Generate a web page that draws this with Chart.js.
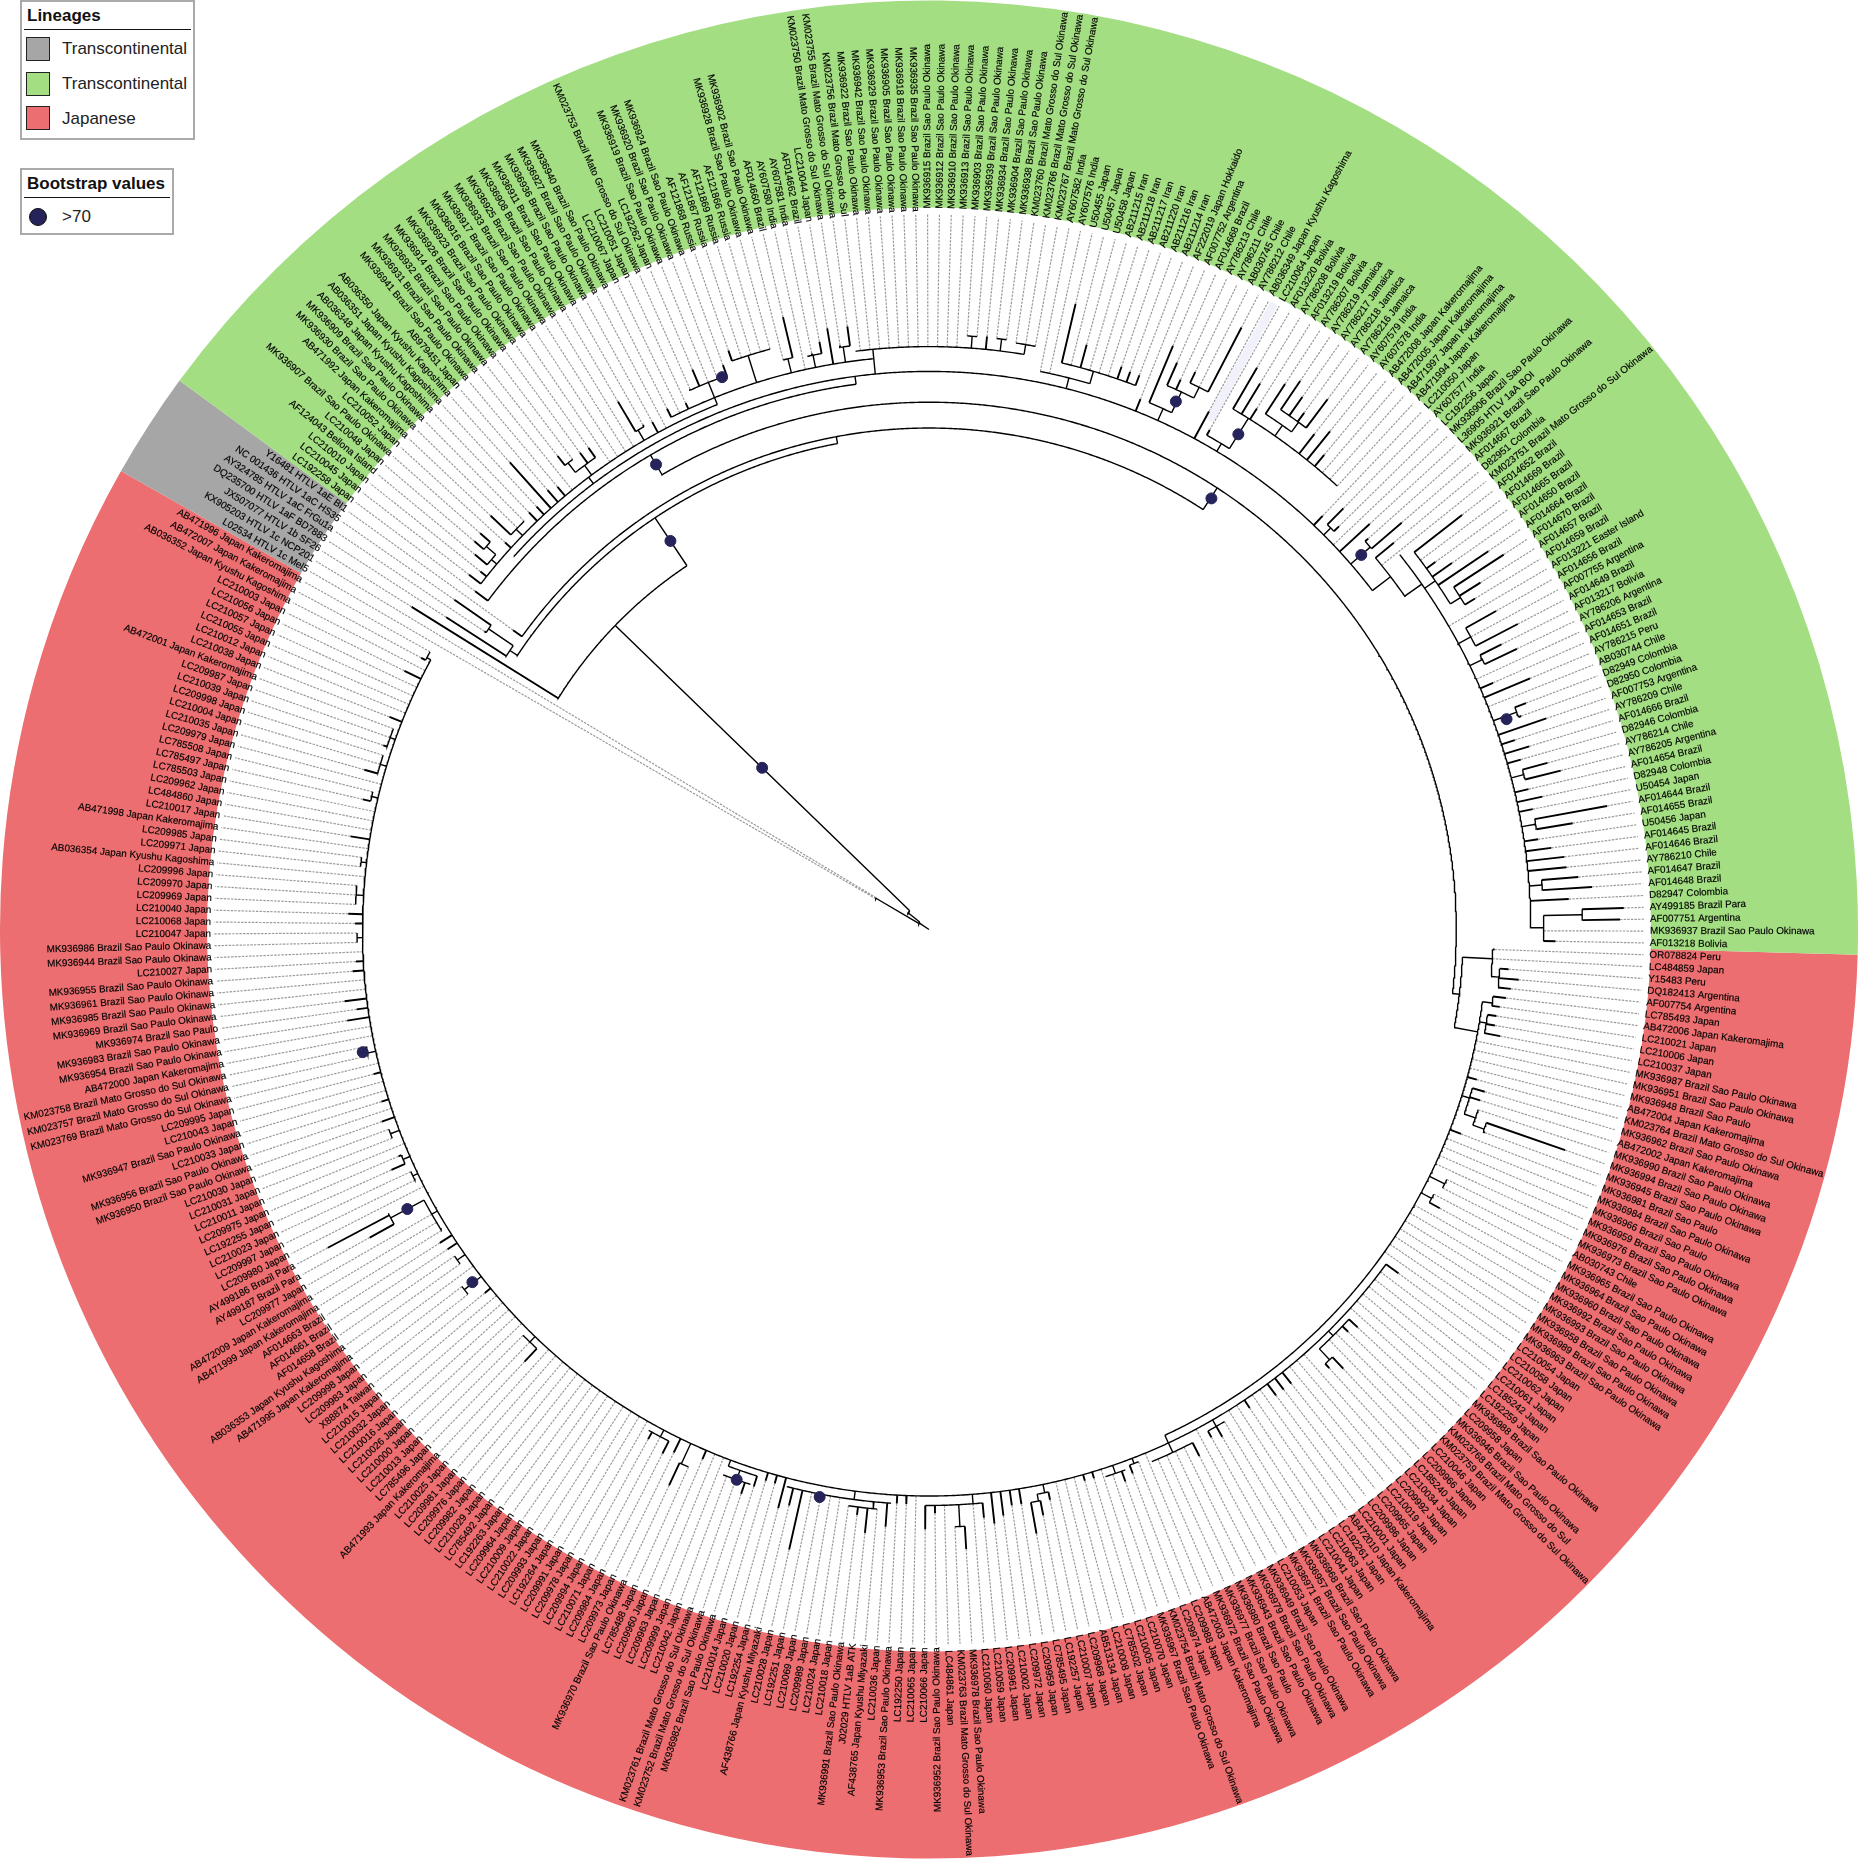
<!DOCTYPE html>
<html>
<head>
<meta charset="utf-8">
<title>HTLV-1 tree</title>
<script src="https://cdn.jsdelivr.net/npm/chart.js@4"></script>
<style>
body { margin: 0; background: #fff; width: 1858px; height: 1859px; overflow: hidden; position: relative; font-family: "Liberation Sans", Arial, sans-serif; }
canvas { position: absolute; left: 0; top: 0; }
.box { position: absolute; left: 20px; border: 2px solid #aaa; background: #fff; box-sizing: border-box; width: 175px; z-index: 5; }
.box b { position: absolute; left: 5px; top: 4px; font-size: 17px; color: #111; white-space: nowrap; }
.box hr { position: absolute; left: 2px; right: 2px; margin: 0; border: 0; border-top: 1.5px solid #111; }
.swatch { position: absolute; left: 4px; width: 24px; height: 24px; box-sizing: border-box; border: 1px solid #222; }
.lbl { position: absolute; left: 40px; font-size: 17px; color: #222; white-space: nowrap; }
.dot { position: absolute; left: 7px; width: 18px; height: 18px; border-radius: 50%; background: #25235a; box-sizing: border-box; border: 1px solid #111; }
</style>
</head>
<body>
<canvas id="ring" width="1858" height="1859"></canvas>
<canvas id="tree" width="1858" height="1859"></canvas>

<div class="box" style="top:0;height:140px">
  <b>Lineages</b><hr style="top:27px">
  <div class="swatch" style="top:35px;background:#a6a6a6"></div><div class="lbl" style="top:37px">Transcontinental</div>
  <div class="swatch" style="top:70px;background:#a4de82"></div><div class="lbl" style="top:72px">Transcontinental</div>
  <div class="swatch" style="top:104px;background:#ec6e70"></div><div class="lbl" style="top:107px">Japanese</div>
</div>
<div class="box" style="top:168px;height:67px;width:154px">
  <b>Bootstrap values</b><hr style="top:27px">
  <div class="dot" style="top:38px"></div><div class="lbl" style="top:37px">&gt;70</div>
</div>

<script>
// tip names, counter-clockwise from the green/red border
const greenTips = ['AF013218 Bolivia','MK936937~S','AF007751 Argentina','AY499185 Brazil Para','D82947 Colombia','AF014648 Brazil','AF014647 Brazil','AY786210 Chile','AF014646 Brazil','AF014645 Brazil',
'U50456~J','AF014655 Brazil','AF014644 Brazil','U50454~J','D82948 Colombia','AF014654 Brazil','AY786205 Argentina','AY786214 Chile','D82946 Colombia','AF014666 Brazil',
'AY786209 Chile','AF007753 Argentina','D82950 Colombia','D82949 Colombia','AB030744 Chile','AY786215 Peru','AF014651 Brazil','AF014653 Brazil','AY786206 Argentina','AF013217 Bolivia',
'AF014649 Brazil','AF007755 Argentina','AF014656 Brazil','AF013221 Easter Island','AF014659 Brazil','AF014657 Brazil','AF014670 Brazil','AF014664 Brazil','AF014650 Brazil','AF014665 Brazil',
'AF014669 Brazil','AF014652 Brazil','KM023751~M','D82951 Colombia','AF014667 Brazil','MK936921~S','L36905 HTLV 1aA BOI','MK936906~S','LC192256~J','AY607577 India',
'LC210050~J','AB471994~K','AB471997~K','AB472005~K','AB472008~K','AY607578 India','AY607579 India','AY786216 Jamaica','AY786218 Jamaica','AY786217 Jamaica',
'AY786219 Jamaica','AY786207 Bolivia','AF013219 Bolivia','AY786208 Bolivia','AF013220 Bolivia','LC210064~J','AB036349~G','AY786212 Chile','AB030745 Chile','AY786211 Chile',
'AY786213 Chile','AF014668 Brazil','AF007752 Argentina','AF222019 Japan Hokkaido','AB211214 Iran','AB211216 Iran','AB211220 Iran','AB211217 Iran','AB211218 Iran','AB211215 Iran',
'U50458~J','U50457~J','U50455~J','AY607576 India','AY607582 India','KM023767~M','KM023766~M','KM023760~M','MK936938~S','MK936904~S',
'MK936934~S','MK936939~S','MK936903~S','MK936913~S','MK936910~S','MK936912~S','MK936915~S','MK936935~S','MK936918~S','MK936905~S',
'MK936929~S','MK936942~S','MK936922~S','KM023756 Brazil Mato Grosso do Sul','KM023755~M','KM023750~M','LC210044~J','AF014662 Brazil','AY607581 India','AY607580 India',
'AF014660 Brazil','MK936902~S','MK936928~S','AF121866 Russia','AF121869 Russia','AF121867 Russia','AF121868 Russia','MK936924~S','MK936920~S','MK936919~S',
'LC192262~J','KM023753~M','LC210051~J','LC210067~J','MK936940~S','MK936927~S','MK936936~S','MK936911~S','MK936908~S','MK936925~S',
'MK936933~S','MK936917~S','MK936916~S','MK936923~S','MK936926~S','MK936914~S','MK936932~S','MK936931~S','MK936941~S','AB979451~J',
'AB036350~G','AB036351~G','AB036348~G','MK936909~S','MK936930~S','AB471992~K','LC210052~J','MK936907~S','LC210048~J','AF124043 Bellona Island',
'LC210010~J','LC210045~J','LC192258~J'];

const greyTips = ['Y16481 HTLV 1aE BI1','NC 001436 HTLV 1aC HS35','AY324785 HTLV 1aC FrGu1a','DQ235700 HTLV 1aF BD7883','JX507077 HTLV 1b SF26','KX905203 HTLV 1c NCP201','L02534 HTLV 1c Mel5'];

const redTips = ['AB471996~K','AB472007~K','AB036352~G','LC210003~J','LC210056~J','LC210057~J','LC210055~J','LC210012~J','LC210038~J','AB472001~K',
'LC209987~J','LC210039~J','LC209998~J','LC210004~J','LC210035~J','LC209979~J','LC785508~J','LC785497~J','LC785503~J','LC209962~J',
'LC484860~J','LC210017~J','AB471998~K','LC209985~J','LC209971~J','AB036354~G','LC209996~J','LC209970~J','LC209969~J','LC210040~J',
'LC210068~J','LC210047~J','MK936986~S','MK936944~S','LC210027~J','MK936955~S','MK936961~S','MK936985~S','MK936969~S','MK936974 Brazil Sao Paulo',
'MK936983~S','MK936954~S','AB472000~K','KM023758~M','KM023757~M','KM023769~M','LC209995~J','LC210043~J','MK936947~S','LC210033~J',
'MK936956~S','MK936950~S','LC210030~J','LC210031~J','LC210011~J','LC209975~J','LC192255~J','LC210023~J','LC209997~J','LC209980~J',
'AY499186 Brazil Para','AY499187 Brazil Para','LC209977~J','AB472009~K','AB471999~K','AF014663 Brazil','AF014661 Brazil','AF014658 Brazil','AB036353~G','AB471995~K',
'LC209998~J','LC209983~J','X88874 Taiwan','LC210015~J','LC210032~J','LC210016~J','LC210026~J','LC210000~J','LC210013~J','LC785496~J',
'AB471993~K','LC210025~J','LC209981~J','LC209976~J','LC209982~J','LC210029~J','LC785492~J','LC192263~J','LC209964~J','LC210009~J',
'LC210022~J','LC209993~J','LC192264~J','LC209991~J','LC209978~J','LC209994~J','LC210071~J','LC209984~J','LC209973~J','MK936970~S',
'LC785488~J','LC209960~J','LC209963~J','LC209999~J','LC210042~J','KM023761~M','KM023752~M','MK936982~S','LC210014~J','LC210020~J',
'LC192254~J','AF438766 Japan Kyushu Miyazaki','LC210028~J','LC192251~J','LC210069~J','LC209989~J','LC210024~J','LC210018~J','MK936991~S','J02029 HTLV 1aB ATK',
'AF438765 Japan Kyushu Miyazaki','LC210036~J','MK936953~S','LC192250~J','LC210065~J','LC210066~J','MK936952~S','LC484861~J','KM023763~M','MK936978~S',
'LC210060~J','LC210059~J','LC209961~J','LC210002~J','LC209972~J','LC209959~J','LC785495~J','LC192257~J','LC210007~J','LC209968~J',
'AB513134~J','LC210008~J','LC785502~J','LC210005~J','LC210070~J','MK936967~S','KM023754~M','LC209974~J','LC209988~J','AB472003~K',
'MK936972~S','MK936977~S','MK936980 Brazil Sao Paulo','MK936943~S','MK936979~S','MK936949~S','LC210053~J','MK936971~S','MK936957~S','MK936968~S',
'LC210041~J','LC210063~J','LC192261~J','AB472010~K','LC210001~J','LC209986~J','LC209965~J','LC210019~J','LC209992~J','LC210034~J',
'LC185240~J','LC209966~J','LC210046~J','KM023759~M','KM023768 Brazil Mato Grosso do Sul','MK936946~S','LC209958~J','MK936988~S','LC192259~J','LC185242~J',
'LC210061~J','LC210062~J','LC210058~J','LC210054~J','MK936963~S','MK936989~S','MK936958~S','MK936993~S','MK936992~S','MK936960~S',
'MK936964~S','MK936965~S','AB030743 Chile','MK936973~S','MK936976~S','MK936959~S','MK936966 Brazil Sao Paulo','MK936984~S','MK936981 Brazil Sao Paulo','MK936945~S',
'MK936994~S','MK936990~S','AB472002~K','MK936962~S','KM023764~M','AB472004~K','MK936948 Brazil Sao Paulo','MK936951~S','MK936987~S','LC210037~J',
'LC210006~J','LC210021~J','AB472006~K','LC785493~J','AF007754 Argentina','DQ182413 Argentina','Y15483 Peru','LC484859~J','OR078824 Peru'];

// clades: depth, first tip, last tip, tip number where the stem joins (red tips count negative)
const rootClades = [[12,150,158.5,155],[62,158,159,158.5],[27,144.2,151,150],[440,131.3,157,144.2],[498,107.1,155.2,131.3],[507,154.5,156,155.2],
[537,154,155,154.5],[505,61,153,107.1],[531,-6.2,127.9,61],[554,103.9,152,127.9],[562,40.5,146.4,103.9]];

const greenClades = [[570,119,151,134.8],[577,147.6,149,148.3],[589.5,147,148,147.6],[579,143,145,144.2],[582,133,135.6,134.4],[594,135,136,135.6],
[582,127,128,127.7],[577.5,101.8,124,119],[594,117,121,119],[606,112,116,114.3],[592,110,111,110.5],[590,107,108.5,107.9],[593,104,105,104.7],
[587,86,103.5,101.7],[599,91,92,91.5],[599,88,89,88.5],[597,85,87,86],[573,78.6,84,80.9],[586,74,82,78.6],[575,69.4,72,70.4],[598,68,71,69.4],
[610,67,69,68],[571,62.2,65,63.2],[607,51,64,62.2],[620,57.9,61,59],[632,57,60,57.9],[572,48,49,48.5],[588,44,45,44.2],[585,37.9,43,40.5],
[606,1.3,41.7,38],[619,34.8,41,37.5],[631,34,36,34.8],[620,30,32,31],[620,28,29,28.5],[631,22,23,22.5],[619,16,17,16.5],[620,11,12,11.5],
[619,5,6,5.5],[619,0,2.5,1.3],[658,2,3,2.5]];

const redClades = [[562,-6.7,-67.3,-10],[538,-2,-10,-6.2],[568,-1,-3.9,-2],[576,-3,-5,-3.9],[572,-6,-7,-6.7],[569,-8,-10,-8.9],[570,-16,-18.9,-17.1],
[582,-18,-19.7,-18.9],[594,-19,-20,-19.7],[579,-26,-27,-26.5],[574,-28,-29,-28.5],[570.5,-37,-218.3,-67.3],[577,-44,-48.4,-46.4],[592,-48,-49,-48.4],
[578,-61,-63,-62],[581,-65,-69.7,-67.3],[576,-71,-72,-71.5],[579,-72.6,-74.8,-73.7],[579,-81,-82.2,-81.4],[586,-82,-83,-82.2],[580,-88,-94,-89],
[602,-90,-91,-90.5],[579,-97.6,-108.7,-101.5],[586,-99,-102,-99.4],[577,-112,-115.2,-115.2],[587,-112.4,-115.4,-113.9],[593,-119,-120,-119.8],
[578,-122,-124.4,-123],[578,-139,-141,-140],[592,-148,-149,-148.6],[580,-151,-152,-151.5],[577,-155,-158.7,-157],[615,-158,-159.2,-158.7],
[576,-161,-162,-161.5],[578,-163,-164,-163.5],[580,-166,-167,-166.5],[579,-175,-176,-175.3],[576,-187,-188,-187.5],[578,-191,-193,-192],
[576,-195,-196,-195.5],[577,-202,-203,-202.5],[577,-205,-207,-206],[576,-208,-210,-209],[575,-218,-219,-218.3]];

// tips with a visible black branch: tip, depth where it ends
const rootTipEnds = [[157,614],[154,582],[155,539],[156,579],[153,516],[152,570],[146,578]];
const greenTipEnds = [[0,631],[2,696],[3,700],[4,645],[6,656],[5,669],[7,645],[8,644],[9,632],[10,620],[12,694],[11,657],[13,620],[14,632],[15,620],[17,645],[16,656],
[18,620],[19,632],[20,620],[21,657],[23,643],[22,634],[25,656],[26,620],[29,644],[28,656],[32,655],[30,668],[36,691],[35,656],[34,643],[41,680],[39,630],[38,643],[37,680],
[43,609],[44,628],[45,592],[46,603],[49,595],[48,579],[50,575],[55,644],[56,632],[54,622],[60,667],[59,655],[58,643],[57,668],[61,656],[62,620],[63,643],[64,655],[65,577],
[66,593],[69,622],[67,683],[71,623],[70,609],[72,637],[73,575],[74,597],[75,597],[76,599],[80,610],[82,647],[90,600],[117,605],[120,612],[121,595],[116,617],[124,587],
[122,584],[110,634],[108,592],[107,602],[106,614],[104,613],[105,595],[127,584],[128,617],[126,582],[133,594],[134,595],[136,606],[140,632],[139,586],[138,582],[141,581],
[142,582],[145,607],[149,593],[148,602],[147,603],[150,578],[151,585]];
const redTipEnds = [[-1,570],[-3,585],[-4,596],[-5,589],[-6,585],[-7,580],[-8,578],[-9,578],[-10,585],[-15,572],[-16,583],[-17,581],[-19,678],[-20,596],[-21,574],[-29,586],
[-37,586],[-44,589],[-45,585],[-48,608],[-49,598],[-53,585],[-54,585],[-55,585],[-58,580],[-62,590],[-63,585],[-65,596],[-72,585],[-73,590],[-76,577],[-77,577],[-81,587],
[-82,601],[-83,618],[-84,586],[-85,586],[-86,595],[-87,602],[-88,595],[-90,625],[-93,588],[-94,604],[-96,579],[-97,579],[-98,603],[-100,611],[-101,594],[-107,640],[-108,597],
[-109,602],[-110,579],[-111,579],[-112,588],[-113,599],[-118,580],[-120,618],[-121,586],[-122,592],[-124,586],[-139,596],[-147,578],[-153,582],[-154,585],[-158,643],
[-159,685],[-163,593],[-164,581],[-168,584],[-170,578],[-173,578],[-179,593],[-180,582],[-181,593],[-184,582],[-185,578],[-189,578],[-190,585],[-198,590],[-202,585],
[-205,591],[-208,580],[-211,584],[-216,589],[-218,580]];

// bootstrap >70 nodes
const bootTip = [144.2,131.3,127.9,117.5,60.9,69.5,62.2,44.2,22.2,-175.5,-158.7,-148.7,-113.9,-105.1];
const bootDepth = [234,470,543,594,519,587,588,576,619,583.5,596,581,587,582];

const highlightTip = 66;
const lineageColors = { red: '#ec6e70', grey: '#a6a6a6', green: '#a4de82' };

const suffix = { S: ' Brazil Sao Paulo Okinawa', M: ' Brazil Mato Grosso do Sul Okinawa', J: ' Japan', K: ' Japan Kakeromajima', G: ' Japan Kyushu Kagoshima' };
const tipNames = greenTips.concat(greyTips, redTips).map(n => n.replace(/~(.)/, (m, k) => suffix[k]));
const N = tipNames.length;
const step = 360 / N;
const startAngle = -1.55;
const ringInner = 722;
const ringOuter = 929;
const dotEnd = 720;

const clades = rootClades.concat(greenClades, redClades);
const tipEnds = new Map(rootTipEnds.concat(greenTipEnds, redTipEnds));

function polar(t, r) {
    const a = (startAngle + step * (t + 0.5)) * Math.PI / 180;
    return { x: r * Math.cos(a), y: r * Math.sin(a) };
}

function inRange(c, t) {
    return t >= Math.min(c[1], c[2]) - 0.01 && t <= Math.max(c[1], c[2]) + 0.01;
}

function parentDepth(t, below) {
    let best = 0;
    clades.forEach(c => {
        if (c[0] < below && c[0] > best && inRange(c, t)) best = c[0];
    });
    return best;
}

const gap = { x: NaN, y: NaN };
const arcPts = [], stemPts = [], tipPts = [], dottedPts = [];

clades.forEach(c => {
    const from = Math.min(c[1], c[2]), to = Math.max(c[1], c[2]);
    for (let t = from; t < to; t += 0.2) arcPts.push(polar(t, c[0]));
    arcPts.push(polar(to, c[0]), gap);
    stemPts.push(polar(c[3], parentDepth(c[3], c[0])), polar(c[3], c[0]), gap);
});

for (let i = 0; i < N; i++) {
    const t = i < 160 ? i : i - N;
    const start = parentDepth(t, 9999);
    const end = Math.max(tipEnds.has(t) ? tipEnds.get(t) : start, start);
    if (end > start) tipPts.push(polar(t, start), polar(t, end), gap);
    dottedPts.push(polar(t, end), polar(t, dotEnd), gap);
}

const bootPts = bootTip.map((t, i) => polar(t, bootDepth[i]));
const bandPts = [polar(highlightTip - 0.5, 585), polar(highlightTip - 0.5, 720)];

new Chart(document.getElementById('ring'), {
    type: 'doughnut',
    data: {
        labels: ['Japanese', 'Transcontinental', 'Transcontinental'],
        datasets: [{
            data: [redTips.length, greyTips.length, greenTips.length],
            backgroundColor: [lineageColors.red, lineageColors.grey, lineageColors.green],
            borderWidth: 0
        }]
    },
    options: {
        responsive: false,
        animation: false,
        devicePixelRatio: 1,
        rotation: 90 - startAngle,
        cutout: (ringInner / ringOuter * 100) + '%',
        layout: { padding: 0 },
        plugins: { legend: { display: false }, tooltip: { enabled: false } }
    }
});

const tipLabels = {
    id: 'tipLabels',
    afterDatasetsDraw(chart) {
        const ctx = chart.ctx, sx = chart.scales.x, sy = chart.scales.y;
        ctx.save();
        ctx.font = '9.9px "Liberation Sans", Arial, sans-serif';
        ctx.fillStyle = '#000';
        ctx.strokeStyle = 'rgba(0,0,0,0.55)';
        ctx.lineWidth = 0.3;
        ctx.textBaseline = 'middle';
        tipNames.forEach((name, i) => {
            const t = i < 160 ? i : i - N;
            const a = startAngle + step * (t + 0.5);
            const right = a > -89 && a < 90.6;
            const p = polar(t, right ? 726 : 723);
            ctx.save();
            ctx.translate(sx.getPixelForValue(p.x), sy.getPixelForValue(p.y));
            ctx.rotate(-(right ? a : a - 180) * Math.PI / 180);
            ctx.textAlign = right ? 'left' : 'right';
            ctx.fillText(name, 0, 0);
            ctx.strokeText(name, 0, 0);
            ctx.restore();
        });
        ctx.restore();
    }
};

new Chart(document.getElementById('tree'), {
    type: 'scatter',
    data: {
        datasets: [
            { data: bootPts, pointRadius: 5.5, pointBackgroundColor: '#25235a', pointBorderColor: '#25235a', showLine: false, order: 0 },
            { data: arcPts, showLine: true, borderColor: '#000', borderWidth: 1.4, pointRadius: 0, order: 1 },
            { data: stemPts, showLine: true, borderColor: '#000', borderWidth: 1.4, pointRadius: 0, order: 1 },
            { data: tipPts, showLine: true, borderColor: '#000', borderWidth: 1.9, pointRadius: 0, order: 2 },
            { data: dottedPts, showLine: true, borderColor: '#9a9a9a', borderWidth: 1.2, borderDash: [2.4, 1.2], pointRadius: 0, order: 3 },
            { data: bandPts, showLine: true, borderColor: '#f0f1fb', borderWidth: 8, pointRadius: 0, order: 4 }
        ]
    },
    options: {
        responsive: false,
        animation: false,
        devicePixelRatio: 1,
        layout: { padding: 0 },
        scales: {
            x: { type: 'linear', display: false, min: -929, max: 929 },
            y: { type: 'linear', display: false, min: -929.5, max: 929.5 }
        },
        plugins: { legend: { display: false }, tooltip: { enabled: false } }
    },
    plugins: [tipLabels]
});
</script>
</body>
</html>
